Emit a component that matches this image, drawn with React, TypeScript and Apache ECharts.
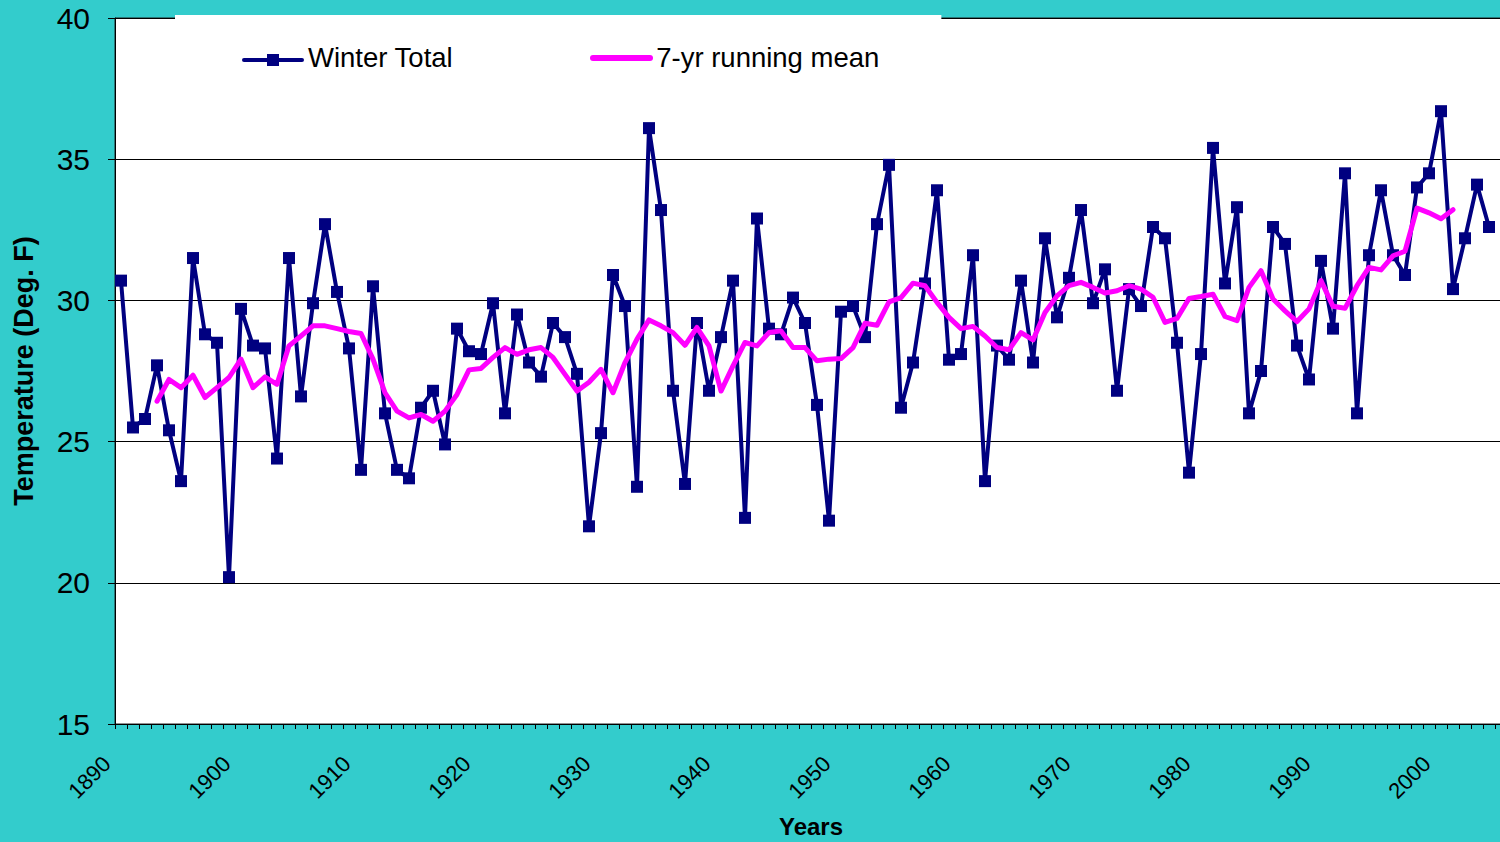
import React, { useEffect, useRef } from "react";
import * as echarts from "echarts";

const years: string[] = [];
for (let y = 1890; y <= 2005; y++) years.push(String(y));

const winterTotal: (number | null)[] = [
  30.7, 25.5, 25.8, 27.7, 25.4, 23.6, 31.5, 28.8, 28.5, 20.2,
  29.7, 28.4, 28.3, 24.4, 31.5, 26.6, 29.9, 32.7, 30.3, 28.3,
  24.0, 30.5, 26.0, 24.0, 23.7, 26.2, 26.8, 24.9, 29.0, 28.2,
  28.1, 29.9, 26.0, 29.5, 27.8, 27.3, 29.2, 28.7, 27.4, 22.0,
  25.3, 30.9, 29.8, 23.4, 36.1, 33.2, 26.8, 23.5, 29.2, 26.8,
  28.7, 30.7, 22.3, 32.9, 29.0, 28.8, 30.1, 29.2, 26.3, 22.2,
  29.6, 29.8, 28.7, 32.7, 34.8, 26.2, 27.8, 30.6, 33.9, 27.9,
  28.1, 31.6, 23.6, 28.4, 27.9, 30.7, 27.8, 32.2, 29.4, 30.8,
  33.2, 29.9, 31.1, 26.8, 30.4, 29.8, 32.6, 32.2, 28.5, 23.9,
  28.1, 35.4, 30.6, 33.3, 26.0, 27.5, 32.6, 32.0, 28.4, 27.2,
  31.4, 29.0, 34.5, 26.0, 31.6, 33.9, 31.6, 30.9, 34.0, 34.5,
  36.7, 30.4, 32.2, 34.1, 32.6,
];

const runningMean: (number | null)[] = [
  null, null, null,
  26.43, 27.2, 26.91, 27.35, 26.56, 26.91, 27.27,
  27.92, 26.91, 27.29, 27.03, 28.39, 28.74, 29.1, 29.1, 29.0, 28.9,
  28.83, 27.92, 26.73, 26.08, 25.84, 25.96, 25.72, 26.08, 26.67, 27.54,
  27.59, 27.98, 28.33, 28.09, 28.25, 28.33, 27.98, 27.38, 26.79, 27.1,
  27.56, 26.73, 27.8, 28.63, 29.31, 29.1, 28.86, 28.41, 29.04, 28.39,
  26.79, 27.68, 28.51, 28.39, 28.86, 28.92, 28.33, 28.33, 27.86, 27.92,
  27.94, 28.33, 29.19, 29.12, 29.95, 30.1, 30.61, 30.52, 29.93, 29.4,
  29.0, 29.08, 28.74, 28.33, 28.25, 28.86, 28.6, 29.57, 30.16, 30.52,
  30.64, 30.46, 30.26, 30.34, 30.52, 30.4, 30.11, 29.22, 29.36, 30.07,
  30.14, 30.22, 29.43, 29.28, 30.46, 31.05, 30.05, 29.63, 29.25, 29.7,
  30.7, 29.79, 29.72, 30.52, 31.17, 31.08, 31.58, 31.74, 33.27, 33.1,
  32.89, 33.21,
];

const yTicks = { min: 15, max: 40, interval: 5 };
const FONT = "'Liberation Sans', Arial, sans-serif";
const NAVY = "#000080";
const MAGENTA = "#FF00FF";

export default function App() {
  const ref = useRef<HTMLDivElement>(null);
  useEffect(() => {
    if (!ref.current) return;
    const chart = echarts.init(ref.current, undefined, { renderer: "svg" });
    chart.setOption({
      animation: false,
      backgroundColor: "#33CCCC",
      textStyle: { fontFamily: FONT },
      grid: {
        left: 115,
        top: 18,
        right: -7,
        bottom: 118,
        outerBoundsMode: "none",
        containLabel: false,
        show: true,
        backgroundColor: "#ffffff",
        borderColor: "#222222",
        borderWidth: 1,
      },
      legend: {
        left: 175,
        top: 15,
        z: 10,
        backgroundColor: "#ffffff",
        padding: [28, 62, 28, 68],
        itemWidth: 60,
        itemHeight: 12,
        itemGap: 138,
        textStyle: { fontSize: 27.5, color: "#000", fontFamily: FONT },
        data: [
          { name: "Winter Total", icon: "none" },
          { name: "7-yr running mean", icon: "none" },
        ],
      },
      graphic: [
        {
          type: "line",
          z: 100,
          shape: { x1: 244, y1: 60, x2: 302, y2: 60 },
          style: { stroke: NAVY, lineWidth: 4, lineCap: "round" },
        },
        {
          type: "rect",
          z: 101,
          shape: { x: 267, y: 54, width: 12, height: 12 },
          style: { fill: NAVY },
        },
        {
          type: "line",
          z: 100,
          shape: { x1: 593, y1: 58, x2: 650, y2: 58 },
          style: { stroke: MAGENTA, lineWidth: 6, lineCap: "round" },
        },
      ],
      xAxis: {
        type: "category",
        data: years,
        boundaryGap: true,
        name: "Years",
        nameLocation: "middle",
        nameGap: 90,
        nameTextStyle: { fontSize: 24, fontWeight: "bold", color: "#000", fontFamily: FONT },
        axisLine: { lineStyle: { color: "#000", width: 1 } },
        axisTick: { show: true, interval: 0, length: 5, inside: false, lineStyle: { color: "#000" } },
        axisLabel: {
          interval: 9,
          rotate: 45,
          fontSize: 22,
          color: "#000",
          margin: 22,
          padding: [0, 20, 0, 0],
          fontFamily: FONT,
        },
        splitLine: { show: false },
      },
      yAxis: {
        type: "value",
        min: yTicks.min,
        max: yTicks.max,
        interval: yTicks.interval,
        name: "Temperature (Deg. F)",
        nameLocation: "middle",
        nameGap: 78,
        nameTextStyle: { fontSize: 27, fontWeight: "bold", color: "#000", fontFamily: FONT },
        axisLine: { show: true, lineStyle: { color: "#000", width: 1 } },
        axisTick: { show: true, length: 7, lineStyle: { color: "#000" } },
        axisLabel: { fontSize: 30, color: "#000", margin: 25, fontFamily: FONT },
        splitLine: { show: true, lineStyle: { color: "#000", width: 1 } },
      },
      series: [
        {
          name: "Winter Total",
          type: "line",
          data: winterTotal,
          symbol: "rect",
          symbolSize: 12,
          showAllSymbol: true,
          itemStyle: { color: NAVY },
          lineStyle: { color: NAVY, width: 4 },
          z: 3,
        },
        {
          name: "7-yr running mean",
          type: "line",
          data: runningMean,
          symbol: "none",
          itemStyle: { color: MAGENTA },
          lineStyle: { color: MAGENTA, width: 5, cap: "round", join: "round" },
          z: 4,
        },
      ],
    });
    return () => chart.dispose();
  }, []);
  return (
    <div
      ref={ref}
      style={{ position: "absolute", left: 0, top: 0, width: 1500, height: 842 }}
    />
  );
}
